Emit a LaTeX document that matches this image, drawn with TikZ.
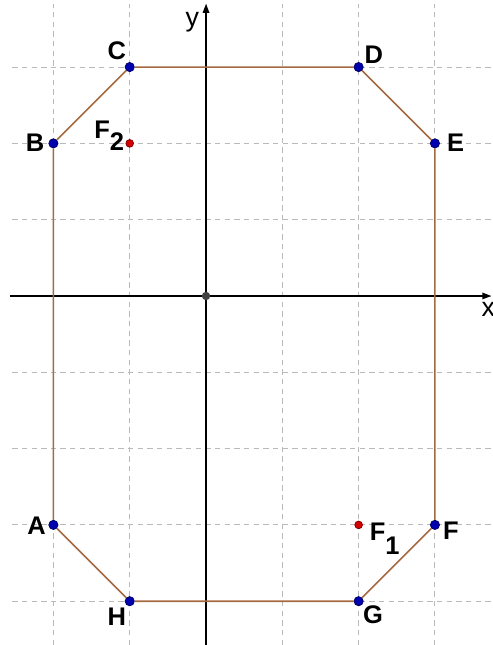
\documentclass[tikz,border=0pt]{standalone}
\usepackage{fontspec}
\setsansfont{Liberation Sans}
\usetikzlibrary{arrows.meta}
\definecolor{edgebrown}{RGB}{165,105,65}
\definecolor{ptblue}{RGB}{0,0,175}
\definecolor{ptred}{RGB}{215,0,0}
\definecolor{gridgray}{RGB}{185,185,185}
\tikzset{
  gridln/.style={gridgray, line width=0.35pt, dash pattern=on 2pt off 1.6pt},
  axis/.style={line width=0.6pt, -{Triangle[length=1.2mm,width=0.85mm]}},
  side/.style={edgebrown, line width=0.6pt},
  vert/.style={circle, fill=ptblue, draw=ptblue!60!black, line width=0.3pt, inner sep=0pt, minimum size=1.2mm},
  focus/.style={circle, fill=ptred, draw=ptred!60!black, line width=0.3pt, inner sep=0pt, minimum size=1.0mm},
  orig/.style={circle, fill=black!75, inner sep=0pt, minimum size=1.1mm},
  lbl/.style={font=\sffamily\bfseries\fontsize{9.5}{10}\selectfont, inner sep=0pt},
  axlbl/.style={font=\sffamily\fontsize{10}{11}\selectfont, inner sep=0pt},
}

\begin{document}
\begin{tikzpicture}[x=1cm,y=1cm]
\useasboundingbox (-2.70,-4.574) rectangle (3.748,3.879);
% grid
\foreach \i in {-2,...,3} \draw[gridln] (\i,-4.574) -- (\i,3.82);
\foreach \j in {-4,...,3} \draw[gridln] (-2.54,\j) -- (3.75,\j);
% axes
\coordinate (xl) at (-2.57,0); \coordinate (xr) at (3.74,0);
\coordinate (yb) at (0,-4.574); \coordinate (yt) at (0,3.83);
\draw[axis] (xl) -- (xr);
\draw[axis] (yb) -- (yt);
\node[axlbl] (xlab) at (3.70,-0.17) {x};
\node[axlbl] (ylab) at (-0.18,3.59) {y};
% octagon vertices
\node[vert] (A) at (-2,-3) {};
\node[vert] (B) at (-2,2) {};
\node[vert] (C) at (-1,3) {};
\node[vert] (D) at (2,3) {};
\node[vert] (E) at (3,2) {};
\node[vert] (F) at (3,-3) {};
\node[vert] (G) at (2,-4) {};
\node[vert] (H) at (-1,-4) {};
\draw[side] (A) -- (B) -- (C) -- (D) -- (E) -- (F) -- (G) -- (H) -- (A);
% foci and origin
\node[focus] (F1) at (2,-3) {};
\node[focus] (F2) at (-1,2) {};
\node[orig] (O) at (0,0) {};
% labels
\node[lbl] (lA) at (-2.22,-3.01) {A};
\node[lbl] (lB) at (-2.24,2.01) {B};
\node[lbl] (lC) at (-1.17,3.22) {C};
\node[lbl] (lD) at (2.20,3.16) {D};
\node[lbl] (lE) at (3.27,2.01) {E};
\node[lbl] (lF) at (3.21,-3.07) {F};
\node[lbl] (lG) at (2.19,-4.18) {G};
\node[lbl] (lH) at (-1.17,-4.21) {H};
\node[lbl, anchor=base west] (lF1) at (2.14,-3.20) {F\raisebox{-1.05ex}{1}};
\node[lbl, anchor=base west] (lF2) at (-1.47,2.07) {F\raisebox{-0.95ex}{2}};
\end{tikzpicture}
\end{document}
